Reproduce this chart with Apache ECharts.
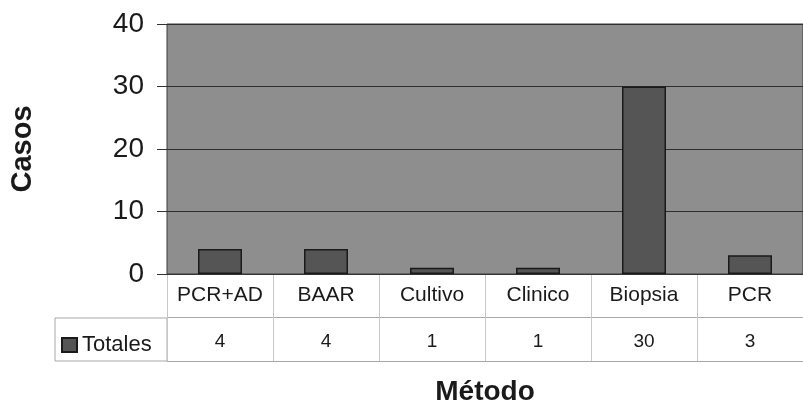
<!DOCTYPE html>
<html>
<head>
<meta charset="utf-8">
<script src="https://cdn.jsdelivr.net/npm/echarts@6/dist/echarts.min.js"></script>
<style>
html,body{margin:0;padding:0;background:#fff;}
#chart{width:803px;height:410px;}
</style>
</head>
<body>
<div id="chart"></div>
<script>
var categories = ['PCR+AD', 'BAAR', 'Cultivo', 'Clinico', 'Biopsia', 'PCR'];
var totales = [4, 4, 1, 1, 30, 3];
var seriesName = 'Totales';
var yTicks = [0, 10, 20, 30, 40];

var font = '"Liberation Sans", Arial, sans-serif';
var chart = echarts.init(document.getElementById('chart'));
chart.setOption({
  animation: false,
  backgroundColor: '#ffffff',
  grid: [
    {left: 167, top: 24, right: 0, height: 250, show: true, backgroundColor: '#8e8e8e', borderColor: '#3a3a3a', borderWidth: 1, containLabel: false, outerBoundsMode: 'none'},
    {left: 167, top: 274, right: 0, height: 87, show: false, containLabel: false, outerBoundsMode: 'none'}
  ],
  legend: {
    left: 56, top: 329, icon: 'rect', itemWidth: 15, itemHeight: 14, itemGap: 8,
    data: [seriesName],
    textStyle: {fontFamily: font, fontSize: 22, color: '#1a1a1a'}
  },
  xAxis: [
    {
      type: 'category', gridIndex: 0, data: categories,
      axisLine: {lineStyle: {color: '#333', width: 1}},
      axisTick: {show: false},
      axisLabel: {fontFamily: font, fontSize: 21, color: '#1a1a1a', margin: 11, interval: 0},
      name: 'Método', nameLocation: 'middle', nameGap: 104,
      nameTextStyle: {fontFamily: font, fontSize: 28, fontWeight: 'bold', color: '#1a1a1a'}
    },
    {
      type: 'category', gridIndex: 1, data: categories, position: 'top',
      axisLine: {show: false}, axisTick: {show: false},
      splitLine: {show: true, lineStyle: {color: '#c8c8c8', width: 1}},
      axisLabel: {
        inside: true, margin: 58, interval: 0, fontFamily: font, fontSize: 19, color: '#1a1a1a',
        formatter: function (v, i) { return String(totales[i]); }
      }
    }
  ],
  yAxis: [
    {
      type: 'value', gridIndex: 0, min: 0, max: 40, interval: 10,
      axisLine: {show: false},
      axisTick: {show: true, length: 10, lineStyle: {color: '#333'}},
      axisLabel: {fontFamily: font, fontSize: 28, color: '#1a1a1a', margin: 23,
        formatter: function (v) { return yTicks.indexOf(v) >= 0 ? String(v) : ''; }},
      splitLine: {lineStyle: {color: '#2e2e2e', width: 1}},
      name: 'Casos', nameLocation: 'middle', nameGap: 130, nameRotate: 90,
      nameTextStyle: {fontFamily: font, fontSize: 29, fontWeight: 'bold', color: '#1a1a1a'}
    },
    {
      type: 'value', gridIndex: 1, min: 0, max: 2, interval: 1,
      axisLine: {show: false}, axisTick: {show: false}, axisLabel: {show: false},
      splitLine: {lineStyle: {color: '#a8a8a8', width: 1}}
    }
  ],
  graphic: [
    {type: 'rect', shape: {x: 55, y: 318, width: 112, height: 43},
     style: {fill: 'none', stroke: '#a8a8a8', lineWidth: 1}, silent: true}
  ],
  series: [
    {
      name: seriesName, type: 'bar', xAxisIndex: 0, yAxisIndex: 0,
      data: totales, barWidth: 44,
      itemStyle: {color: '#555555', borderColor: '#1a1a1a', borderWidth: 1.5}
    }
  ]
});
</script>
</body>
</html>
